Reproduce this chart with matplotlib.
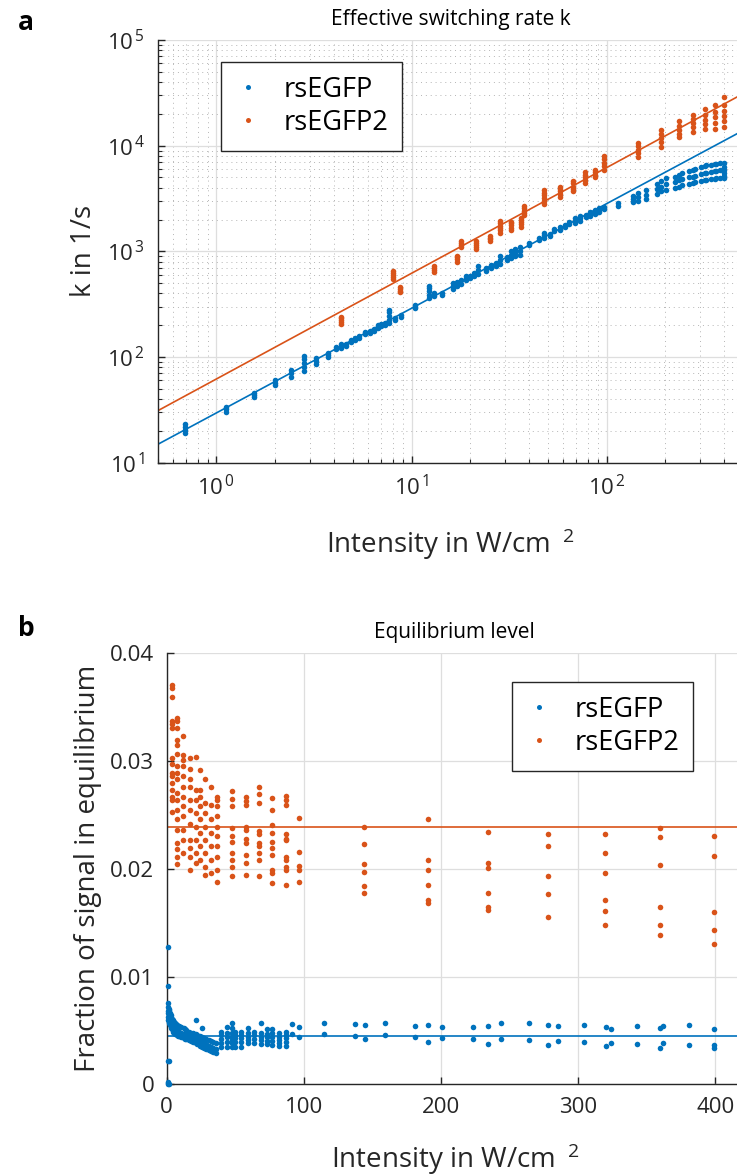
import math
import matplotlib
matplotlib.use('Agg')
import matplotlib.pyplot as plt
from matplotlib.ticker import FixedLocator, FixedFormatter, LogLocator, NullFormatter, FuncFormatter

# ---------------- data: panel a (effective switching rate k) ----------------
blue_k_I = [0.69, 1.12, 1.56, 1.99, 2.42, 2.81, 3.25, 3.72, 4.1, 4.35, 4.6, 4.9, 5.15, 5.4,
            5.8, 6.1, 6.4, 6.7, 7.0, 7.3, 7.7, 8.2, 8.8, 10.4, 12.3, 13.1, 14.3, 16.4, 17.2,
            17.9, 19, 20, 21, 22, 24, 25.5, 27, 28.5, 31, 32.5, 34, 36, 40, 45, 48, 51, 54,
            57.5, 61, 64, 68.5, 73, 78, 82, 87, 91.7, 96.6, 115, 137, 144.5, 159, 181, 191,
            201, 223, 234.5, 244, 264, 278, 285, 304.5, 320, 324, 343, 360, 362, 381, 399]
blue_k = [[19, 20.5, 22, 23], [30, 32, 34], [42, 44, 46], [54, 57, 60], [65, 70, 75],
          [74, 80, 88, 95, 102], [86, 92, 98], [100, 105, 110], [118, 124], [122, 128, 133],
          [128, 134], [140, 146], [145, 152], [150, 157], [165, 172], [170, 178], [178, 186],
          [190, 200], [195, 205], [200, 212], [210, 222, 245, 265, 280], [225, 235], [240, 250],
          [290, 300, 310], [360, 390, 420, 450, 475], [380, 400], [390, 405], [440, 470, 500],
          [470, 510], [490, 530], [530, 560, 590], [560, 590], [580, 620], [610, 660, 720],
          [650, 700], [690, 740], [720, 780], [760, 830, 900], [820, 880], [860, 920, 1000],
          [900, 960, 1050], [930, 1000, 1100], [1150, 1200], [1280, 1350], [1350, 1420, 1500],
          [1400, 1470], [1550, 1620], [1600, 1700], [1700, 1780], [1800, 1900],
          [1850, 1950, 2050], [1950, 2050, 2150], [2100, 2200], [2150, 2250, 2350],
          [2250, 2350, 2450], [2350, 2450, 2550], [2500, 2600], [2700, 2850],
          [2950, 3150, 3350], [3000, 3300, 3600], [3100, 3450, 3800], [3500, 3900, 4300],
          [3700, 4100, 4600], [3800, 4300, 4900], [4000, 4500, 5100], [4100, 4700, 5300],
          [4200, 4800, 5500], [4300, 5000, 5700], [4400, 5100, 5900], [4500, 5200, 6000],
          [4600, 5400, 6300], [4700, 5500, 6400], [4700, 5500, 6500], [4800, 5600, 6600],
          [4800, 5700, 6700], [4900, 5800, 6700], [4900, 5900, 6800],
          [4900, 5200, 5500, 5900, 6300, 6900]]

orange_k_I = [4.34, 8.05, 8.7, 13.1, 17.2, 18.0, 21.3, 25.2, 28.4, 32.4, 36.3, 37.9, 47.7,
              57.5, 67, 77.4, 86.8, 96.6, 144, 190, 235, 278, 320, 360, 399]
orange_k = [[205, 215, 225, 232, 240], [550, 575, 600, 625, 650], [410, 425, 440, 455],
            [640, 670, 700, 730], [800, 840, 880, 910], [1100, 1150, 1200, 1250],
            [1050, 1100, 1150, 1200, 1250], [1250, 1300, 1350, 1400],
            [1500, 1580, 1650, 1750, 1850, 1950], [1600, 1680, 1760, 1850, 1900],
            [1700, 1800, 1900, 2000, 2050], [2200, 2300, 2400, 2550, 2700],
            [2800, 3000, 3200, 3400, 3600, 3800], [3300, 3500, 3700, 3900, 4100],
            [3700, 3900, 4100, 4400, 4600], [4400, 4700, 5000, 5300, 5600],
            [5000, 5300, 5600, 5900], [5900, 6400, 6900, 7400, 7900],
            [7800, 8500, 9200, 9900, 10500], [9800, 10800, 11800, 12800, 14000],
            [12000, 13000, 14000, 15500, 17000], [13500, 15000, 16500, 18000, 19500],
            [14500, 16000, 17500, 19500, 22000], [14500, 16500, 18500, 21000, 24000],
            [15000, 17000, 19000, 21500, 24500, 29000]]

# power-law fits k = a * I^b
blue_fit = (29.6, 0.99)
orange_fit = (62.0, 1.0)

# ---------------- data: panel b (equilibrium level) ----------------
blue_eq_I = [0.7, 1.1, 1.6, 2.0, 2.4, 2.8, 3.3, 3.7, 4.3, 4.9, 5.4, 6.1, 6.7, 7.3, 8.2,
             8.8, 10.4, 12.3, 13.1, 14.3, 16.4, 17.9, 19, 21, 22, 24, 25.5, 27, 28.5, 31,
             32.5, 34, 36, 39.6, 44, 47.7, 50.1, 54.3, 59.2, 63.6, 68.5, 72.9, 77, 82, 86.8,
             91.7, 96.6, 115, 137, 144.5, 159.4, 181, 190.7, 201, 223, 234.5, 244, 264, 278,
             285, 304.5, 320, 324, 343, 360, 362, 381, 399]
blue_eq = [[0.0127, 0.0075, 0.0068, 0.0062, 0.0002, 0.0], [0.0091, 0.0072, 0.0066, 0.0060, 0.0022, 0.0001],
           [0.0070, 0.0065, 0.0059, 0.0], [0.0069, 0.0063, 0.0057, 0.0022], [0.0066, 0.0060, 0.0055],
           [0.0064, 0.0058, 0.0054], [0.0062, 0.0057, 0.0052], [0.0061, 0.0056, 0.0051],
           [0.0060, 0.0055, 0.0050], [0.0059, 0.0054, 0.0049], [0.0058, 0.0053, 0.0048],
           [0.0057, 0.0052, 0.0047], [0.0056, 0.0051, 0.0047], [0.0055, 0.0050, 0.0046],
           [0.0054, 0.0049, 0.0045], [0.0054, 0.0049, 0.0045], [0.0053, 0.0048, 0.0044],
           [0.0052, 0.0047, 0.0043], [0.0051, 0.0046, 0.0042], [0.0050, 0.0046, 0.0042],
           [0.0049, 0.0045, 0.0041], [0.0048, 0.0044, 0.0040], [0.0048, 0.0043, 0.0039],
           [0.0060, 0.0047, 0.0042, 0.0038], [0.0046, 0.0041, 0.0037], [0.0045, 0.0040, 0.0036],
           [0.0052, 0.0044, 0.0039, 0.0035], [0.0043, 0.0038, 0.0034], [0.0042, 0.0037, 0.0033],
           [0.0041, 0.0036, 0.0032], [0.0040, 0.0035, 0.0031], [0.0039, 0.0034, 0.0030],
           [0.0038, 0.0033, 0.0029], [0.0049, 0.00458, 0.00418, 0.0038, 0.0035],
           [0.00536, 0.00474, 0.00437, 0.00396, 0.0035],
           [0.0057, 0.0052, 0.00474, 0.00443, 0.00412, 0.00381, 0.0035],
           [0.00489, 0.00458, 0.00427, 0.00396, 0.0035], [0.00489, 0.00458, 0.00427, 0.00396, 0.0035],
           [0.0052, 0.00474, 0.00443, 0.00412, 0.00381], [0.00489, 0.00458, 0.00421, 0.00381],
           [0.00573, 0.0048, 0.00443, 0.00412, 0.00372], [0.00511, 0.00467, 0.00437, 0.00402, 0.00372],
           [0.00511, 0.00474, 0.00443, 0.00406, 0.00365], [0.0048, 0.00443, 0.00412, 0.00381, 0.00359],
           [0.00489, 0.00458, 0.00427, 0.00396, 0.00359], [0.00557, 0.0047], [0.00536, 0.00437],
           [0.00567, 0.00467], [0.00557, 0.00449], [0.00548, 0.00418], [0.00573, 0.00458],
           [0.00542, 0.00437], [0.00548, 0.00396], [0.00535, 0.00427], [0.00535, 0.00424],
           [0.00541, 0.00374], [0.00572, 0.0042], [0.00569, 0.00411], [0.00554, 0.00365],
           [0.00541, 0.00399], [0.0055, 0.0039], [0.00535, 0.00356], [0.00513, 0.00387],
           [0.00544, 0.00378], [0.00519, 0.0034], [0.00544, 0.00387], [0.00547, 0.00365],
           [0.00516, 0.00365, 0.00334]]

orange_eq_I = [3.7, 7.5, 12, 17, 21, 24.5, 28, 32, 36.5, 47.7, 57.5, 67, 77, 87, 96.6,
               144, 190.7, 234.5, 277.8, 319.6, 360, 398.8]
orange_eq = [[0.0371, 0.0368, 0.0359, 0.0337, 0.0334, 0.0331, 0.0303, 0.0297, 0.0289, 0.0286,
              0.0280, 0.0273, 0.0267, 0.0264, 0.0253],
             [0.0340, 0.0337, 0.0331, 0.0320, 0.0315, 0.0307, 0.0295, 0.0289, 0.0283, 0.0270,
              0.0264, 0.0255, 0.0246, 0.0236, 0.0224, 0.0218, 0.0211, 0.0204],
             [0.0323, 0.0306, 0.0301, 0.0295, 0.0286, 0.0276, 0.0267, 0.0258, 0.0249, 0.0236,
              0.0227, 0.0215],
             [0.0303, 0.0293, 0.0283, 0.0276, 0.0264, 0.0255, 0.0242, 0.0227, 0.0219, 0.0211, 0.0199],
             [0.0304, 0.0273, 0.0264, 0.0252, 0.0239, 0.0227, 0.0215, 0.0205],
             [0.0292, 0.0273, 0.0267, 0.0258, 0.0246, 0.0233, 0.0221, 0.0208],
             [0.0283, 0.0261, 0.0252, 0.0239, 0.0227, 0.0215, 0.0202, 0.0194],
             [0.0276, 0.0259, 0.0246, 0.0233, 0.0221, 0.0208, 0.0196],
             [0.0267, 0.0264, 0.0258, 0.0249, 0.0239, 0.0230, 0.0221, 0.0211, 0.0199, 0.0188],
             [0.0272, 0.0265, 0.0258, 0.0238, 0.0230, 0.0225, 0.0215, 0.0208, 0.0202, 0.0193],
             [0.0267, 0.0263, 0.0259, 0.0239, 0.0236, 0.0228, 0.0224, 0.0213, 0.0205, 0.0194],
             [0.0276, 0.0269, 0.0261, 0.0235, 0.0232, 0.0224, 0.0221, 0.0215, 0.0208, 0.0193],
             [0.0266, 0.0255, 0.0241, 0.0233, 0.0225, 0.0219, 0.0213, 0.0199, 0.0196, 0.0187],
             [0.0268, 0.0264, 0.0259, 0.0232, 0.0228, 0.0227, 0.0211, 0.0208, 0.0202, 0.0199, 0.0185],
             [0.0247, 0.0216, 0.0203, 0.0199, 0.0188],
             [0.0239, 0.0223, 0.0204, 0.0197, 0.0184, 0.0178],
             [0.0246, 0.0208, 0.0199, 0.0185, 0.0171, 0.0168],
             [0.02339, 0.02057, 0.0201, 0.01773, 0.01643, 0.01618],
             [0.02323, 0.02214, 0.01933, 0.01766, 0.01553],
             [0.0232, 0.02144, 0.01958, 0.01708, 0.01608, 0.01478],
             [0.02382, 0.02298, 0.02038, 0.01645, 0.01481, 0.01386],
             [0.02304, 0.02116, 0.01599, 0.01432, 0.01305]]

blue_eq_level = 0.00452
orange_eq_level = 0.0239

series_names = ['rsEGFP', 'rsEGFP2']
top_xticks = [1, 10, 100]
top_yticks = [10, 100, 1000, 10000, 100000]
bot_xticks = [0, 100, 200, 300, 400]
bot_xticklabels = ['0', '100', '200', '300', '400']
bot_yticks = [0, 0.01, 0.02, 0.03, 0.04]
bot_yticklabels = ['0', '0.01', '0.02', '0.03', '0.04']

# ---------------- style ----------------
plt.rcParams['font.family'] = ['Open Sans', 'DejaVu Sans']
plt.rcParams['mathtext.fontset'] = 'custom'
plt.rcParams['mathtext.rm'] = 'Open Sans'
plt.rcParams['mathtext.it'] = 'Open Sans:italic'
plt.rcParams['mathtext.bf'] = 'Open Sans:bold'

BLUE = '#0072BD'
ORANGE = '#D95319'
AXC = '#262626'
W, H = 737, 1176
LABEL_FS = 20
XLABEL = r'Intensity in W/cm$^{\ \ 2}$'


def flat(xs, vals):
    X, Y = [], []
    for x, vs in zip(xs, vals):
        for v in vs:
            X.append(x)
            Y.append(v)
    return X, Y


def style_axes(ax):
    for s in ['top', 'right']:
        ax.spines[s].set_visible(False)
    for s in ['left', 'bottom']:
        ax.spines[s].set_color(AXC)
        ax.spines[s].set_linewidth(1.0)
    ax.tick_params(which='both', direction='in', colors=AXC, labelcolor=AXC, labelsize=16)
    ax.tick_params(which='major', length=5, width=1.0)
    ax.tick_params(which='minor', length=3, width=0.8)
    ax.set_axisbelow(True)


fig = plt.figure(figsize=(W / 100, H / 100), dpi=100)

# ---------------- panel a ----------------
ax1 = fig.add_axes([157.7 / W, 1 - 462.7 / H, (743 - 157.7) / W, 422.7 / H])
style_axes(ax1)
ax1.set_xscale('log')
ax1.set_yscale('log')
ax1.set_xlim(0.5, 500)
ax1.set_ylim(10, 1e5)

bx, by = flat(blue_k_I, blue_k)
ox, oy = flat(orange_k_I, orange_k)
ax1.plot(bx, by, 'o', color=BLUE, ms=4.0, mew=0, label=series_names[0], zorder=3)
ax1.plot(ox, oy, 'o', color=ORANGE, ms=4.0, mew=0, label=series_names[1], zorder=3)
xl = ax1.get_xlim()
ax1.plot(xl, [blue_fit[0] * v ** blue_fit[1] for v in xl], color=BLUE, lw=1.2, zorder=2)
ax1.plot(xl, [orange_fit[0] * v ** orange_fit[1] for v in xl], color=ORANGE, lw=1.2, zorder=2)
ax1.set_xlim(xl)

pow_fmt = FuncFormatter(lambda v, p: r'$\mathregular{10^{\,%d}}$' % round(math.log10(v)))
ax1.xaxis.set_major_locator(FixedLocator(top_xticks))
ax1.yaxis.set_major_locator(FixedLocator(top_yticks))
ax1.xaxis.set_major_formatter(pow_fmt)
ax1.yaxis.set_major_formatter(pow_fmt)
ax1.xaxis.set_minor_locator(LogLocator(base=10, subs=range(2, 10), numticks=20))
ax1.yaxis.set_minor_locator(LogLocator(base=10, subs=range(2, 10), numticks=20))
ax1.xaxis.set_minor_formatter(NullFormatter())
ax1.yaxis.set_minor_formatter(NullFormatter())
ax1.tick_params(axis='x', which='major', pad=9)
ax1.tick_params(axis='y', which='major', pad=9)
ax1.grid(True, which='major', color='#dedede', lw=0.9)
ax1.grid(True, which='minor', color='#b5b5b5', lw=0.7, ls=(0, (1, 4)))

ax1.set_title('Effective switching rate k', fontsize=15, color='black', pad=11)
ax1.set_xlabel(XLABEL, fontsize=LABEL_FS, color=AXC, labelpad=19)
ax1.set_ylabel('k in 1/s', fontsize=LABEL_FS, color=AXC, labelpad=6)
leg1 = ax1.legend(loc='upper left', bbox_to_anchor=(221 / W, 1 - 62 / H), bbox_transform=fig.transFigure,
                  fontsize=19.5, frameon=True, fancybox=False, framealpha=1, edgecolor=AXC,
                  handlelength=1.0, handletextpad=0.8, borderpad=0.5, labelspacing=0.2,
                  borderaxespad=0, markerscale=0.9)
leg1.get_frame().set_linewidth(1.0)

fig.text(18 / W, 1 - 22 / H, 'a', fontsize=19, fontweight='bold', va='center', ha='left')

# ---------------- panel b ----------------
ax2 = fig.add_axes([166.7 / W, 1 - 1084.3 / H, (742.7 - 166.7) / W, (1084.3 - 653.3) / H])
style_axes(ax2)
ax2.set_xlim(0, 420)
ax2.set_ylim(0, 0.04)
bx2, by2 = flat(blue_eq_I, blue_eq)
ox2, oy2 = flat(orange_eq_I, orange_eq)
ax2.plot(bx2, by2, 'o', color=BLUE, ms=4.0, mew=0, label=series_names[0], zorder=3, clip_on=False)
ax2.plot(ox2, oy2, 'o', color=ORANGE, ms=4.0, mew=0, label=series_names[1], zorder=3)
ax2.axhline(blue_eq_level, color=BLUE, lw=1.2, zorder=2)
ax2.axhline(orange_eq_level, color=ORANGE, lw=1.2, zorder=2)
ax2.xaxis.set_major_locator(FixedLocator(bot_xticks))
ax2.xaxis.set_major_formatter(FixedFormatter(bot_xticklabels))
ax2.yaxis.set_major_locator(FixedLocator(bot_yticks))
ax2.yaxis.set_major_formatter(FixedFormatter(bot_yticklabels))
ax2.tick_params(axis='x', which='major', pad=9)
ax2.tick_params(axis='y', which='major', pad=9)
ax2.grid(True, which='major', color='#dedede', lw=0.9)

ax2.set_title('Equilibrium level', fontsize=15, color='black', pad=11)
ax2.set_xlabel(XLABEL, fontsize=LABEL_FS, color=AXC, labelpad=17)
ax2.set_ylabel('Fraction of signal in equilibrium', fontsize=LABEL_FS, color=AXC, labelpad=6)
leg2 = ax2.legend(loc='upper left', bbox_to_anchor=(512 / W, 1 - 682 / H), bbox_transform=fig.transFigure,
                  fontsize=19.5, frameon=True, fancybox=False, framealpha=1, edgecolor=AXC,
                  handlelength=1.0, handletextpad=0.8, borderpad=0.5, labelspacing=0.2,
                  borderaxespad=0, markerscale=0.9)
leg2.get_frame().set_linewidth(1.0)

fig.text(18 / W, 1 - 628 / H, 'b', fontsize=19, fontweight='bold', va='center', ha='left')

fig.savefig('out.png', dpi=100)
